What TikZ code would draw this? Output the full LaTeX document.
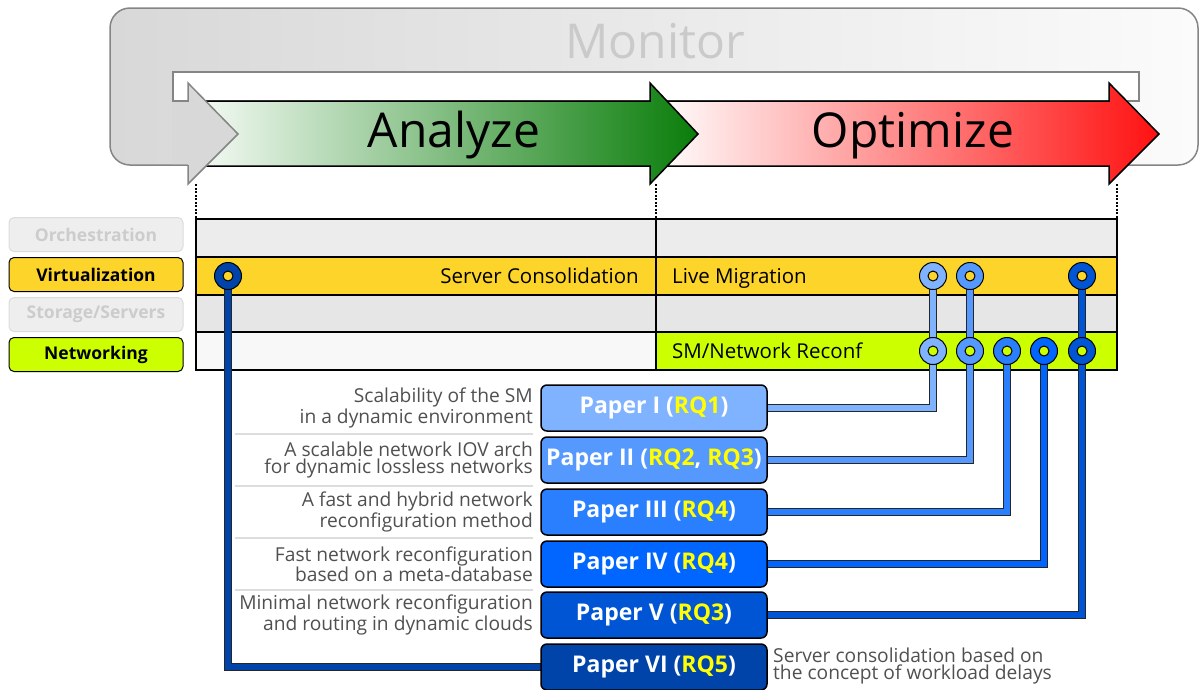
\documentclass[tikz,border=0pt]{standalone}
\usepackage{fontspec}
\setmainfont{Open Sans}
\definecolor{monL}{HTML}{D8D8D8}
\definecolor{monR}{HTML}{FBFBFB}
\definecolor{monB}{HTML}{858585}
\definecolor{monT}{HTML}{CACACA}
\definecolor{grnL}{HTML}{F4FAF4}
\definecolor{grnR}{HTML}{0A7D0A}
\definecolor{redR}{HTML}{FF1111}
\definecolor{orch}{HTML}{ECECEC}
\definecolor{stor}{HTML}{E6E6E6}
\definecolor{netL}{HTML}{F8F8F8}
\definecolor{virt}{HTML}{FDD42A}
\definecolor{netR}{HTML}{CCFF00}
\definecolor{lgfill}{HTML}{EEEEEE}
\definecolor{lgdraw}{HTML}{DCDCDC}
\definecolor{lgtext}{HTML}{CCCCCC}
\definecolor{cA}{HTML}{80B3FF}
\definecolor{cB}{HTML}{5599FF}
\definecolor{cC}{HTML}{2A7FFF}
\definecolor{cD}{HTML}{0066FF}
\definecolor{cE}{HTML}{0055D4}
\definecolor{cF}{HTML}{0044AA}
\definecolor{rqy}{HTML}{FFFF00}
\definecolor{descgray}{HTML}{505050}
\definecolor{sepgray}{HTML}{DDDDDD}
\begin{document}
\begin{tikzpicture}[x=1pt,y=-1pt,
  lbl/.style={rounded corners=5pt, minimum width=174pt, minimum height=34pt, inner sep=0pt,
    font=\fontsize{17.5}{17.5}\selectfont\bfseries, line width=1pt},
  paper/.style={draw=black, line width=1.5pt, rounded corners=6pt, minimum width=226pt,
    minimum height=46pt, inner sep=0pt, text=white, font=\fontsize{23}{23}\selectfont\bfseries},
  desc/.style={anchor=east, align=right, text=descgray, inner sep=0pt,
    font=\fontsize{19.2}{17.5}\selectfont},
  rowtext/.style={inner sep=0pt, font=\fontsize{20.5}{20.5}\selectfont, text=black},
  ring/.style={circle, draw=black, line width=1pt, minimum size=27pt, inner sep=0pt},
  hole/.style={circle, draw=black, line width=1pt, minimum size=10pt, inner sep=0pt},
  wireout/.style={line width=8pt, black!85},
  tick/.style={line width=1.5pt, dash pattern=on 2pt off 1.5pt},
  sep/.style={line width=1.5pt, sepgray}]
\useasboundingbox (0,0) rectangle (1201,689);

% Monitor loop
\shadedraw[left color=monL, right color=monR, draw=monB, line width=1.5pt, rounded corners=20pt]
  (110,8) rectangle (1198,165);
\filldraw[fill=white, draw=monB, line width=1.5pt] (173,72) rectangle (1139,101);
\node[text=monT, font=\fontsize{48}{48}\selectfont, inner sep=0pt, anchor=base] (mon) at (655,58) {Monitor};

% Optimize arrow
\shadedraw[left color=white, right color=redR, draw=black, line width=1.5pt]
  (655,101) -- (1109,101) -- (1109,83) -- (1159,134) -- (1109,184) -- (1109,166) -- (655,166) -- cycle;
% Analyze arrow
\shadedraw[left color=grnL, right color=grnR, draw=black, line width=1.5pt]
  (200,101) -- (650,101) -- (650,83) -- (698,134) -- (650,184) -- (650,166) -- (200,166) -- cycle;
% grey arrow head of monitor loop
\fill[monL] (172,102) -- (188,102) -- (188,83) -- (238,134) -- (188,184) -- (188,164) -- (172,164) -- cycle;
\draw[monB, line width=1.5pt, line join=miter] (173,101) -- (188,101) -- (188,83) -- (238,134) -- (188,184) -- (188,165);

\node[font=\fontsize{48}{48}\selectfont, inner sep=0pt, anchor=base] (ana) at (454,147) {Analyze};
\node[font=\fontsize{48}{48}\selectfont, inner sep=0pt, anchor=base] (opt) at (913,147) {Optimize};

% dashed ticks
\coordinate (t1a) at (196,184); \coordinate (t1b) at (196,219);
\coordinate (t2a) at (656,184); \coordinate (t2b) at (656,219);
\coordinate (t3a) at (1117,184); \coordinate (t3b) at (1117,219);
\draw[tick] (t1a) -- (t1b);
\draw[tick] (t2a) -- (t2b);
\draw[tick] (t3a) -- (t3b);

% grid
\fill[orch] (196,219) rectangle (1117,257);
\fill[virt] (196,257) rectangle (1117,295);
\fill[stor] (196,295) rectangle (1117,332);
\fill[netL] (196,332) rectangle (656,370);
\fill[netR] (656,332) rectangle (1117,370);
\draw[line width=1.5pt] (196,219) rectangle (1117,370);
\draw[line width=1.5pt] (196,257) -- (1117,257) (196,295) -- (1117,295) (196,332) -- (1117,332)
  (656,219) -- (656,370);

\node[rowtext, anchor=base east] (sc) at (639,283) {Server Consolidation};
\node[rowtext, anchor=base west] (lm) at (672,283) {Live Migration};
\node[rowtext, anchor=base west] (smr) at (672,358) {SM/Network Reconf};

% left labels
\node[lbl, fill=lgfill, draw=lgdraw, text=lgtext] (orl) at (96,234.5) {Orchestration};
\node[lbl, fill=virt, draw=black, text=black] (vil) at (96,274.5) {Virtualization};
\node[lbl, fill=lgfill, draw=lgdraw, text=lgtext] (stl) at (96,314.5) {Storage/Servers};
\node[lbl, fill=netR, draw=black, text=black] (nel) at (96,354.5) {Networking};

% descriptions
\node[desc] (d1) at (533,408) {Scalability of the SM\\in a dynamic environment};
\node[desc] (d2) at (533,460) {A scalable network IOV arch\\for dynamic lossless networks};
\node[desc] (d3) at (533,512) {A fast and hybrid network\\reconfiguration method};
\node[desc] (d4) at (533,564) {Fast network reconfiguration\\based on a meta-database};
\node[desc] (d5) at (533,615) {Minimal network reconfiguration\\and routing in dynamic clouds};
\node[desc, anchor=west, align=left] (d6) at (773,666) {Server consolidation based on\\the concept of workload delays};
\draw[sep] (235,434) -- (533,434);
\draw[sep] (235,486) -- (533,486);
\draw[sep] (235,538) -- (533,538);
\draw[sep] (235,590) -- (533,590);

% pin coordinates
\coordinate (a6) at (228,276);
\coordinate (a1) at (933,276); \coordinate (b1) at (933,351);
\coordinate (a2) at (970,276); \coordinate (b2) at (970,351);
\coordinate (b3) at (1007,351);
\coordinate (b4) at (1044,351);
\coordinate (a5) at (1082,276); \coordinate (b5) at (1082,351);

% paper box edges (wire ends)
\coordinate (e1) at (767,408);
\coordinate (e2) at (767,460);
\coordinate (e3) at (767,512);
\coordinate (e4) at (767,564);
\coordinate (e5) at (767,615);
\coordinate (e6) at (541,667);

% wires
\foreach \s/\e/\c in {a1/e1/cA, a2/e2/cB, b3/e3/cC, b4/e4/cD, a5/e5/cE}{
  \draw[wireout] (\s) |- (\e);
  \draw[line width=5.5pt, \c] (\s) |- (\e);
}
\draw[wireout] (a6) |- (e6);
\draw[line width=5.5pt, cF] (a6) |- (e6);

% pins
\foreach \p/\c/\f in {a6/cF/virt, a1/cA/virt, b1/cA/netR, a2/cB/virt, b2/cB/netR, b3/cC/netR,
  b4/cD/netR, a5/cE/virt, b5/cE/netR}{
  \node[ring, fill=\c] (r\p) at (\p) {};
  \node[hole, fill=\f] (h\p) at (\p) {};
}

% paper boxes
\node[paper, fill=cA] (p1) at (654,408) {Paper I (\textcolor{rqy}{RQ1})};
\node[paper, fill=cB] (p2) at (654,460) {Paper II (\textcolor{rqy}{RQ2}, \textcolor{rqy}{RQ3})};
\node[paper, fill=cC] (p3) at (654,512) {Paper III (\textcolor{rqy}{RQ4})};
\node[paper, fill=cD] (p4) at (654,564) {Paper IV (\textcolor{rqy}{RQ4})};
\node[paper, fill=cE] (p5) at (654,615) {Paper V (\textcolor{rqy}{RQ3})};
\node[paper, fill=cF] (p6) at (654,667) {Paper VI (\textcolor{rqy}{RQ5})};
\end{tikzpicture}
\end{document}
